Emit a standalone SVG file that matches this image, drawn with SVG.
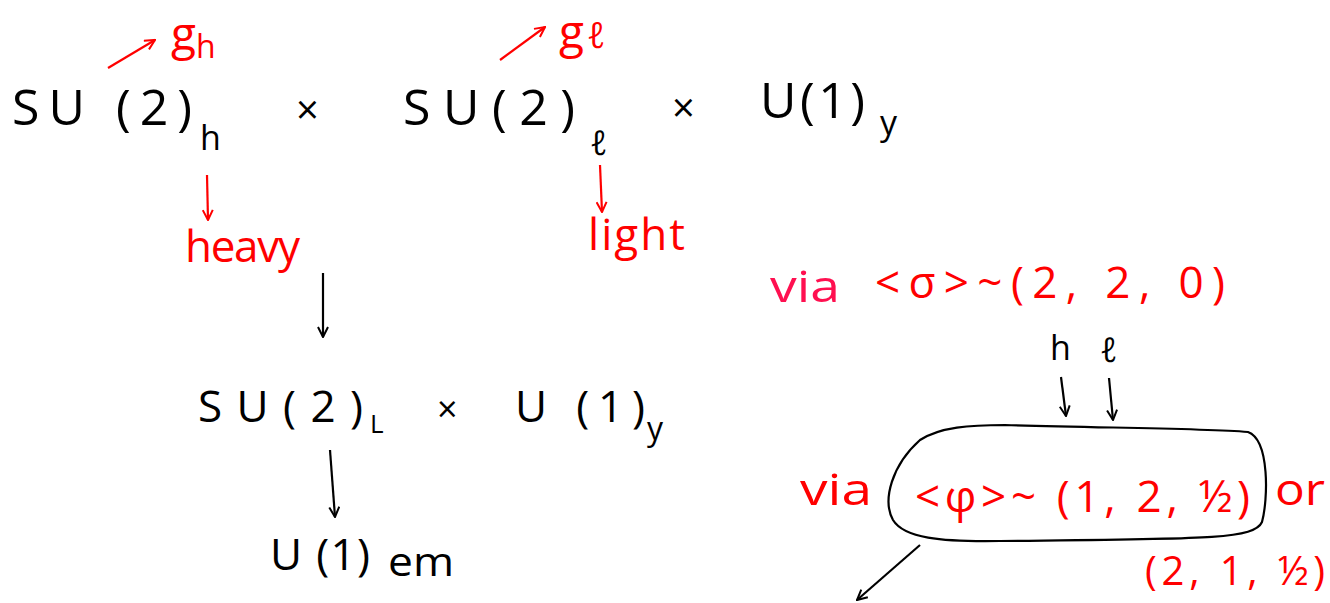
<svg xmlns="http://www.w3.org/2000/svg" width="1330" height="603" viewBox="0 0 1330 603">
<style>
text{font-family:"Open Sans","Liberation Sans",sans-serif;font-weight:400}
.k{fill:#000}
.r{fill:#ff0000}
.p{fill:#ff1050}
.big{font-size:50px}
.mid{font-size:44px}
.sub{font-size:34px}
.x{font-size:40px}
.ck{stroke:#000;stroke-width:2.2;fill:none}
.cr{stroke:#ff0000;stroke-width:2.2;fill:none}
</style>
<defs>
<marker id="ak" viewBox="0 0 12 12" refX="11" refY="6" markerWidth="12" markerHeight="12" markerUnits="userSpaceOnUse" orient="auto">
<path d="M1,1 L11,6 L1,11" fill="none" stroke="#000" stroke-width="2"/>
</marker>
<marker id="ar" viewBox="0 0 12 12" refX="11" refY="6" markerWidth="12" markerHeight="12" markerUnits="userSpaceOnUse" orient="auto">
<path d="M1,1 L11,6 L1,11" fill="none" stroke="#ff0000" stroke-width="2"/>
</marker>
</defs>
<rect width="1330" height="603" fill="#fff"/>

<g id="su2h">
<text class="k big" x="12" y="125" textLength="180" lengthAdjust="spacing">SU (2)</text>
<text class="k sub" x="200" y="150">h</text>
</g>
<g id="times1"><text class="k x" x="296" y="124">×</text></g>
<g id="su2l">
<text class="k big" x="403" y="125" textLength="172" lengthAdjust="spacing">SU(2)</text>
<text class="k sub" x="590" y="155">ℓ</text>
</g>
<g id="times2"><text class="k x" x="672" y="122">×</text></g>
<g id="u1y">
<text class="k big" x="760" y="118" textLength="105" lengthAdjust="spacing">U(1)</text>
<text class="k sub" x="880" y="135">y</text>
</g>

<g id="gh">
<text class="r" style="font-size:46px" x="171" y="50">g</text>
<text class="r" style="font-size:32px" x="196" y="58">h</text>
</g>
<g id="gl">
<text class="r" style="font-size:46px" x="559" y="48">g</text>
<text class="r" style="font-size:36px" x="587" y="48">ℓ</text>
</g>
<g id="heavy"><text class="r mid" x="185" y="262" textLength="115" lengthAdjust="spacing">heavy</text></g>
<g id="light"><text class="r mid" x="588" y="250" textLength="97" lengthAdjust="spacing">light</text></g>

<g id="su2L">
<text class="k mid" x="198" y="422" textLength="165" lengthAdjust="spacing">SU(2)</text>
<text class="k" style="font-size:26px" x="370" y="433">L</text>
</g>
<g id="times3"><text class="k" style="font-size:36px" x="437" y="422">×</text></g>
<g id="u1y2">
<text class="k mid" x="515" y="422" textLength="130" lengthAdjust="spacing">U (1)</text>
<text class="k" style="font-size:32px" x="647" y="440">y</text>
</g>
<g id="u1em">
<text class="k mid" x="270" y="570" textLength="100" lengthAdjust="spacing">U (1)</text>
<text class="k" style="font-size:40px" x="388" y="576" textLength="66" lengthAdjust="spacingAndGlyphs">em</text>
</g>

<g id="via-sigma">
<text class="p" style="font-size:44px" x="770" y="302" textLength="70" lengthAdjust="spacingAndGlyphs">via</text>
<text class="r mid" x="875" y="298" textLength="350" lengthAdjust="spacing">&lt;σ&gt;~(2, 2, 0)</text>
</g>
<g id="hl">
<text class="k sub" x="1050" y="360">h</text>
<text class="k sub" x="1100" y="362">ℓ</text>
</g>
<g id="phi">
<path class="ck" d="M1005 425 C1100 428 1200 428 1248 432 C1270 440 1268 500 1262 522 C1254 540 1200 539 1000 541 C940 542 904 538 893 520 C882 500 892 465 920 440 C940 427 970 425 1005 425 Z"/>
<text class="r" style="font-size:44px" x="800" y="505" textLength="72" lengthAdjust="spacingAndGlyphs">via</text>
<text class="r mid" x="915" y="512" textLength="335" lengthAdjust="spacing">&lt;φ&gt;~ (1, 2, ½)</text>
<text class="r" style="font-size:44px" x="1275" y="505" textLength="50" lengthAdjust="spacingAndGlyphs">or</text>
<text class="r" style="font-size:40px" x="1145" y="585" textLength="180" lengthAdjust="spacing">(2, 1, ½)</text>
</g>

<g id="connectors">
<line class="cr" x1="108" y1="68" x2="155" y2="40" marker-end="url(#ar)"/>
<line class="cr" x1="500" y1="60" x2="545" y2="27" marker-end="url(#ar)"/>
<line class="cr" x1="207" y1="175" x2="208" y2="220" marker-end="url(#ar)"/>
<line class="cr" x1="600" y1="165" x2="602" y2="212" marker-end="url(#ar)"/>
<line class="ck" x1="323" y1="273" x2="323" y2="337" marker-end="url(#ak)"/>
<line class="ck" x1="330" y1="450" x2="335" y2="517" marker-end="url(#ak)"/>
<line class="ck" x1="1061" y1="377" x2="1066" y2="416" marker-end="url(#ak)"/>
<line class="ck" x1="1109" y1="378" x2="1113" y2="420" marker-end="url(#ak)"/>
<line class="ck" x1="920" y1="545" x2="857" y2="600" marker-end="url(#ak)"/>
</g>
</svg>
